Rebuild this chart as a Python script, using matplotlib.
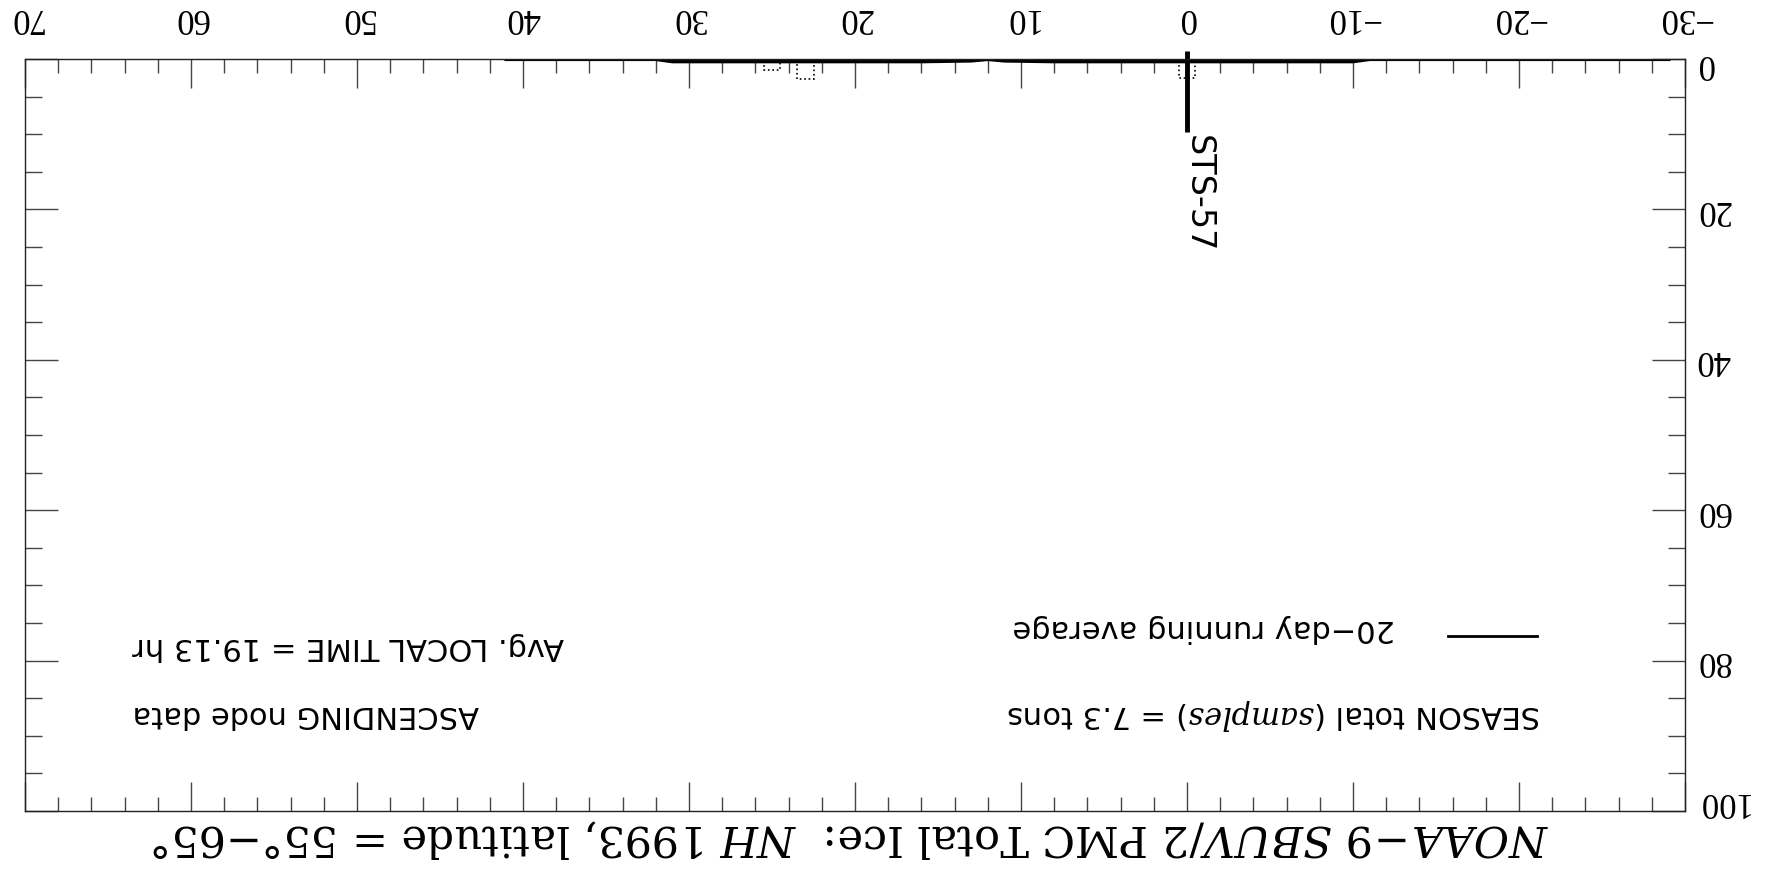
import matplotlib
matplotlib.use("Agg")
import matplotlib.pyplot as plt
from matplotlib.ticker import MultipleLocator
from matplotlib.transforms import ScaledTranslation

plt.rcParams['font.family'] = 'Liberation Serif'
plt.rcParams['mathtext.fontset'] = 'custom'
plt.rcParams['mathtext.rm'] = 'DejaVu Serif'
plt.rcParams['mathtext.it'] = 'DejaVu Serif:italic'

# ---- data (days from solstice) ----
avg_days = [41, 38, 35, 32, 31, 28, 25, 22, 19, 16, 13, 12, 11, 8, 5, 2, -1, -4, -7, -10, -11, -15, -20, -25, -29]
avg_vals = [0.0, 0.0, 0.0, 0.0, 0.3, 0.3, 0.3, 0.3, 0.3, 0.3, 0.2, 0.0, 0.2, 0.3, 0.3, 0.3, 0.3, 0.3, 0.3, 0.3, 0.0, 0.0, 0.0, 0.0, 0.0]
sample_days = [25, 23, 0]
sample_vals = [1.5, 2.7, 2.5]
event_labels = ["STS-57"]
event_days = [0]
event_tops = [9.7]

title_txt = r"$\mathit{NOAA\!-\!9\ SBUV/2}$ PMC Total Ice:  $\mathit{NH\ 1993}$, latitude = 55°$-$65°"
season_txt = r"SEASON total ($\mathit{samples}$) = 7.3 tons"
legend_txt = "20\u2212day running average"
time_txt = "Avg. LOCAL TIME = 19.13 hr"
node_txt = "ASCENDING node data"

fig = plt.figure(figsize=(17.66, 8.74), dpi=100)
ax = fig.add_axes([0.01416, 0.0721, 0.9400, 0.8604])
ax.set_xlim(70, -30)
ax.set_ylim(100, 0)

for s in ax.spines.values():
    s.set_linewidth(1.0)
    s.set_color('#222222')

ax.xaxis.set_major_locator(MultipleLocator(10))
ax.xaxis.set_minor_locator(MultipleLocator(2))
ax.yaxis.set_major_locator(MultipleLocator(20))
ax.yaxis.set_minor_locator(MultipleLocator(5))
ax.tick_params(which='both', direction='in', top=True, bottom=True, left=True, right=True,
               labeltop=True, labelbottom=False, labelleft=False, labelright=True,
               color='#444444', width=1.0, labelrotation=180)
ax.tick_params(axis='x', which='major', length=21, pad=18, labelsize=25)
ax.tick_params(axis='x', which='minor', length=10)
ax.tick_params(axis='y', which='major', length=24, pad=8, labelsize=25)
ax.tick_params(axis='y', which='minor', length=12)

ylocs = ax.yaxis.get_majorticklocs()
yticks = ax.yaxis.get_major_ticks(len(ylocs))
for t, loc in zip(yticks, ylocs):
    t.label2.set_va('center')
    # end labels sit slightly inside the frame
    if loc == 0:
        t.label2.set_transform(t.label2.get_transform() + ScaledTranslation(0, -3 / 72.0, fig.dpi_scale_trans))
    elif loc == 100:
        t.label2.set_transform(t.label2.get_transform() + ScaledTranslation(0, 7 / 72.0, fig.dpi_scale_trans))

# running average
ax.plot(avg_days, avg_vals, color='black', lw=3, solid_joinstyle='round')
# samples (dotted histogram)
ax.bar(sample_days, sample_vals, width=1, fill=False, edgecolor='black', linestyle=':', linewidth=1.2)
# events
for lab, d, top in zip(event_labels, event_days, event_tops):
    ax.plot([d, d], [-1.06, top], color='black', lw=3.5, clip_on=False, solid_capstyle='butt')
    ax.text(d + 0.3, top + 0.4, lab, rotation=-90, ha='left', va='top', fontsize=24,
            family='DejaVu Sans')

# annotations (upside-down)
sans = dict(rotation=180, va='center', fontsize=22, family='DejaVu Sans')
ax.text(63.55, 78.1, time_txt, ha='left', **sans)
ax.text(63.55, 87.2, node_txt, ha='left', **sans)
ax.text(-21.3, 87.2, season_txt, ha='right', **sans)
ax.text(-12.5, 75.7, legend_txt, ha='right', **sans)
ax.plot([-15.7, -21.1], [76.7, 76.7], color='black', lw=2)

ax.text(0.497, -0.034, title_txt, transform=ax.transAxes, rotation=180, ha='center', va='center',
        fontsize=31, family='DejaVu Serif')

fig.savefig("out.png", dpi=100)
